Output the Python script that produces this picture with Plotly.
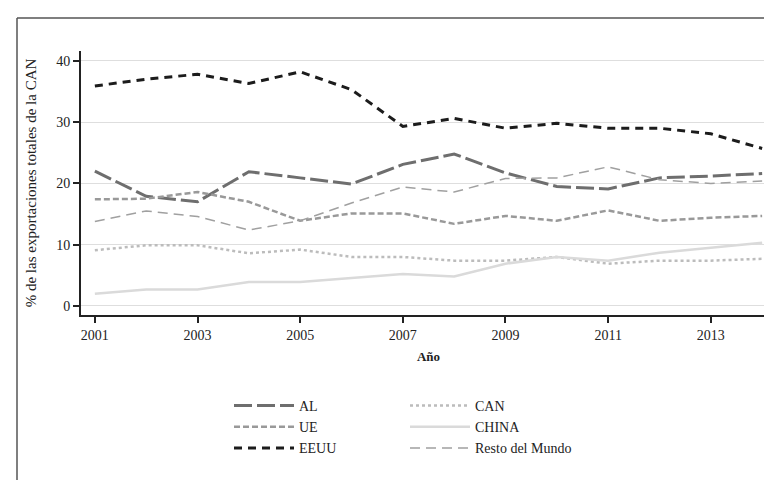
import plotly.graph_objects as go

years = list(range(2001, 2015))
al = [22.0, 17.9, 17.0, 21.9, 20.9, 19.9, 23.1, 24.8, 21.7, 19.5, 19.1, 20.9, 21.2, 21.6]
ue = [17.4, 17.5, 18.6, 17.0, 13.9, 15.1, 15.1, 13.4, 14.7, 13.9, 15.6, 13.9, 14.4, 14.7]
eeuu = [35.9, 37.0, 37.8, 36.3, 38.2, 35.3, 29.3, 30.6, 29.0, 29.8, 29.0, 29.0, 28.1, 25.7]
can = [9.1, 9.9, 9.9, 8.6, 9.2, 8.0, 8.0, 7.4, 7.4, 8.0, 6.9, 7.4, 7.4, 7.7]
china = [2.0, 2.7, 2.7, 3.9, 3.9, 4.6, 5.2, 4.8, 6.9, 8.0, 7.4, 8.7, 9.5, 10.3]
resto = [13.8, 15.5, 14.6, 12.4, 13.9, 16.8, 19.4, 18.6, 20.8, 20.9, 22.7, 20.6, 20.0, 20.4]

x_ticks = [2001, 2003, 2005, 2007, 2009, 2011, 2013]
y_ticks = [0, 10, 20, 30, 40]

FONT = "Liberation Serif"

series = [
    ("AL", al, dict(color="#6e6e6e", width=3, dash="18px,5px"), "legend"),
    ("UE", ue, dict(color="#999999", width=2.5, dash="6px,3px"), "legend"),
    ("EEUU", eeuu, dict(color="#1c1c1c", width=3, dash="8px,6px"), "legend"),
    ("CAN", can, dict(color="#bcbcbc", width=2.5, dash="3px,3px"), "legend2"),
    ("CHINA", china, dict(color="#dadada", width=2.5), "legend2"),
    ("Resto del Mundo", resto, dict(color="#a0a0a0", width=1.5, dash="10px,6px"), "legend2"),
]

fig = go.Figure()
for name, vals, line, lg in series:
    fig.add_trace(go.Scatter(x=years, y=vals, name=name, mode="lines",
                             line=line, legend=lg))

W, H = 772, 480
L, R, T, B = 73, 4, 43, 173
pw, ph = W - L - R, H - T - B

def px(xp):
    return (xp - L) / pw

def py(yp):
    return (H - B - yp) / ph

fig.update_layout(
    width=W, height=H,
    margin=dict(l=L, r=R, t=T, b=B),
    paper_bgcolor="white", plot_bgcolor="white",
    font=dict(family=FONT, size=13, color="#222"),
    legend=dict(x=px(221), y=py(382), xanchor="left", yanchor="top",
                font=dict(family=FONT, size=14, color="#222"),
                itemwidth=60, tracegroupgap=0, bgcolor="rgba(0,0,0,0)"),
    legend2=dict(x=px(397), y=py(382), xanchor="left", yanchor="top",
                 font=dict(family=FONT, size=14, color="#222"),
                 itemwidth=60, tracegroupgap=0, bgcolor="rgba(0,0,0,0)"),
    xaxis=dict(range=[2000.73, 2014.27], tickvals=x_ticks,
               ticktext=[str(v) for v in x_ticks],
               showgrid=False, zeroline=False,
               showline=True, linecolor="#222", linewidth=2,
               ticks="outside", ticklen=6, tickwidth=1.5, tickcolor="#222",
               tickfont=dict(family=FONT, size=14, color="#222"),
               title=dict(text="<b>Año</b>", font=dict(family=FONT, size=13, color="#222"),
                          standoff=10)),
    yaxis=dict(range=[-1.47, 41.6], tickvals=y_ticks,
               showgrid=True, gridcolor="#dedede", gridwidth=1.2,
               zeroline=False,
               showline=True, linecolor="#222", linewidth=2,
               ticks="outside", ticklen=6, tickwidth=1.5, tickcolor="#222",
               tickfont=dict(family=FONT, size=14, color="#222"),
               title=dict(text="% de las exportaciones totales de la CAN",
                          font=dict(family=FONT, size=15, color="#222"),
                          standoff=16)),
    showlegend=True,
)

# frame (top and left borders)
fig.add_shape(type="line", xref="paper", yref="paper",
              x0=px(9), x1=px(9), y0=py(10), y1=py(480),
              line=dict(color="#555", width=1.5))
fig.add_shape(type="line", xref="paper", yref="paper",
              x0=px(9), x1=px(772), y0=py(10), y1=py(10),
              line=dict(color="#555", width=1.5))

fig.write_html("out.html")
